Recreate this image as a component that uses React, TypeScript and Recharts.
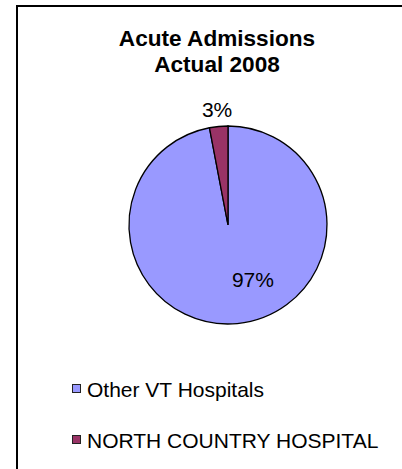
import React from 'react';
import { PieChart, Pie, Cell, Legend } from 'recharts';

const titleLines = ['Acute Admissions', 'Actual 2008'];
const categories = ['Other VT Hospitals', 'NORTH COUNTRY HOSPITAL'];
const shares = [97, 3];
const colors = ['#9999FF', '#993366'];

const FONT = 'Arial, "Liberation Sans", sans-serif';
const RAD = Math.PI / 180;

const data = categories.map((name, i) => ({ name, value: shares[i] }));

// big slice label sits inside, small one just outside the rim (like Excel "best fit")
const renderLabel = (props: any) => {
  const { cx, cy, midAngle, outerRadius, index, value } = props;
  const big = index === 0;
  const r = big ? outerRadius * 0.61 : outerRadius + 17;
  const a = big ? midAngle + 19 : midAngle;
  const x = cx + r * Math.cos(-a * RAD);
  const y = cy + r * Math.sin(-a * RAD);
  return (
    <text
      x={x}
      y={y}
      textAnchor="middle"
      dominantBaseline="central"
      fill="#000"
      style={{ fontFamily: FONT, fontSize: 21 }}
    >
      {value}%
    </text>
  );
};

// keep the data order (recharts sorts legend items by name otherwise)
const renderLegend = (props: any) => {
  const items = [...(props.payload || [])].sort(
    (a: any, b: any) => categories.indexOf(a.value) - categories.indexOf(b.value)
  );
  return (
    <div style={{ fontFamily: FONT, fontSize: 21, color: '#000' }}>
      {items.map((entry: any) => {
        const i = categories.indexOf(entry.value);
        return (
          <div key={entry.value} style={{ display: 'flex', alignItems: 'center', height: 51, lineHeight: '51px' }}>
            <span
              style={{
                display: 'inline-block',
                width: 7,
                height: 7,
                background: colors[i],
                border: '1px solid #222',
                marginRight: 6,
                marginTop: -2,
              }}
            />
            <span>{entry.value}</span>
          </div>
        );
      })}
    </div>
  );
};

export default function App() {
  return (
    <div
      style={{
        position: 'absolute',
        left: 0,
        top: 0,
        width: 402,
        height: 469,
        overflow: 'hidden',
        background: '#fff',
        fontFamily: FONT,
      }}
    >
      <div
        style={{
          position: 'absolute',
          left: 16,
          top: 5,
          width: 600,
          height: 700,
          border: '2px solid #000',
          boxSizing: 'border-box',
        }}
      />
      <div
        style={{
          position: 'absolute',
          left: 117,
          top: 26,
          width: 200,
          textAlign: 'center',
          fontWeight: 'bold',
          fontSize: 22.6,
          lineHeight: '26px',
          color: '#000',
        }}
      >
        {titleLines.map((t) => (
          <div key={t}>{t}</div>
        ))}
      </div>
      <div style={{ position: 'absolute', left: 0, top: 0 }}>
        <PieChart width={402} height={469} margin={{ top: 0, right: 0, bottom: 0, left: 0 }}>
          <Pie
            data={data}
            dataKey="value"
            nameKey="name"
            cx={228}
            cy={225}
            outerRadius={99}
            startAngle={90}
            endAngle={-270}
            stroke="#000"
            strokeWidth={1.3}
            label={renderLabel}
            labelLine={false}
            isAnimationActive={false}
          >
            {data.map((d, i) => (
              <Cell key={d.name} fill={colors[i]} />
            ))}
          </Pie>
          <Legend
            layout="horizontal"
            align="left"
            verticalAlign="bottom"
            content={renderLegend}
            wrapperStyle={{ left: 72, top: 364, bottom: 'auto', width: 330 }}
          />
        </PieChart>
      </div>
    </div>
  );
}
